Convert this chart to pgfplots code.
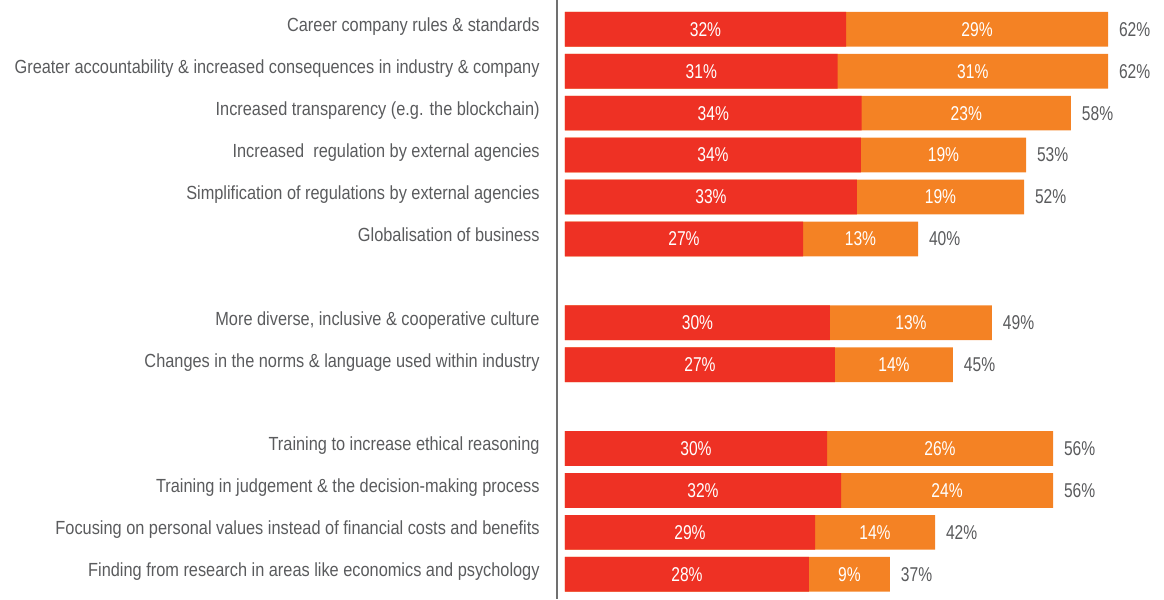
\documentclass[border=0pt]{standalone}
\usepackage{fontspec}
\setmainfont{Liberation Sans}[FakeStretch=0.86]
\newfontfamily\valfont{Liberation Sans}[FakeStretch=0.78]
\usepackage{pgfplots}
\usepackage{pgfplotstable}
\pgfplotsset{compat=1.18}
\definecolor{redc}{HTML}{EE3124}
\definecolor{orangec}{HTML}{F48224}
\definecolor{txtgray}{HTML}{5A5B5D}
\definecolor{linegray}{HTML}{707070}
\pgfplotstableread{
pos red total rl ol tl
0 32.08 61.99 32 29 62
1 31.13 61.99 31 31 62
2 33.87 57.76 34 23 58
3 33.79 52.63 34 19 53
4 33.33 52.40 33 19 52
5 27.17 40.30 27 13 40
7 30.25 48.74 30 13 49
8 30.82 44.29 27 14 45
10 29.91 55.71 30 26 56
11 31.51 55.71 32 24 56
12 28.54 42.24 29 14 42
13 27.85 37.10 28 9 37
}\data
\begin{document}
\begin{tikzpicture}
\begin{axis}[
  scale only axis,
  width=303.5pt, height=299.5pt,
  xmin=-0.913, xmax=68.38,
  ymin=-0.699, ymax=13.59,
  y dir=reverse,
  axis x line=none,
  axis y line*=left,
  y axis line style={linegray, line width=0.7pt},
  xtick=\empty,
  ytick={0,1,2,3,4,5,7,8,10,11,12,13},
  yticklabels={
    Career company rules \& standards,
    Greater accountability \& increased consequences in industry \& company,
    Increased transparency (e.g. the blockchain),
    Increased\ \ regulation by external agencies,
    Simplification of regulations by external agencies,
    Globalisation of business,
    {More diverse, inclusive \& cooperative culture},
    Changes in the norms \& language used within industry,
    Training to increase ethical reasoning,
    Training in judgement \& the decision-making process,
    Focusing on personal values instead of financial costs and benefits,
    Finding from research in areas like economics and psychology},
  major tick length=0pt,
  ytick style={draw=none},
  yticklabel style={font=\fontsize{9.5}{10}\selectfont, text=txtgray, inner sep=0pt, anchor=base east, xshift=-8.5pt, yshift=-1.2pt},
  clip=false,
]
\addplot[xbar, bar width=17.35pt, bar shift=0pt, fill=orangec, draw=none] table[x=total, y=pos]{\data};
\addplot[xbar, bar width=17.35pt, bar shift=0pt, fill=redc, draw=none] table[x=red, y=pos]{\data};
\addplot[draw=none, mark=none, point meta=explicit symbolic,
  nodes near coords={\pgfplotspointmeta\%},
  every node near coord/.style={anchor=center, text=white, font=\valfont\fontsize{10}{11}\selectfont}]
  table[x expr=\thisrow{red}/2, y=pos, meta=rl]{\data};
\addplot[draw=none, mark=none, point meta=explicit symbolic,
  nodes near coords={\pgfplotspointmeta\%},
  every node near coord/.style={anchor=center, text=white, font=\valfont\fontsize{10}{11}\selectfont}]
  table[x expr=(\thisrow{red}+\thisrow{total})/2, y=pos, meta=ol]{\data};
\addplot[draw=none, mark=none, point meta=explicit symbolic,
  nodes near coords={\pgfplotspointmeta\%},
  every node near coord/.style={anchor=west, inner sep=0pt, xshift=5.3pt, text=txtgray, font=\valfont\fontsize{10}{11}\selectfont}]
  table[x=total, y=pos, meta=tl]{\data};
\end{axis}
\pgfresetboundingbox
\path[use as bounding box] ([xshift=-278.5pt]current axis.south west) rectangle (current axis.north east);
\end{tikzpicture}
\end{document}
